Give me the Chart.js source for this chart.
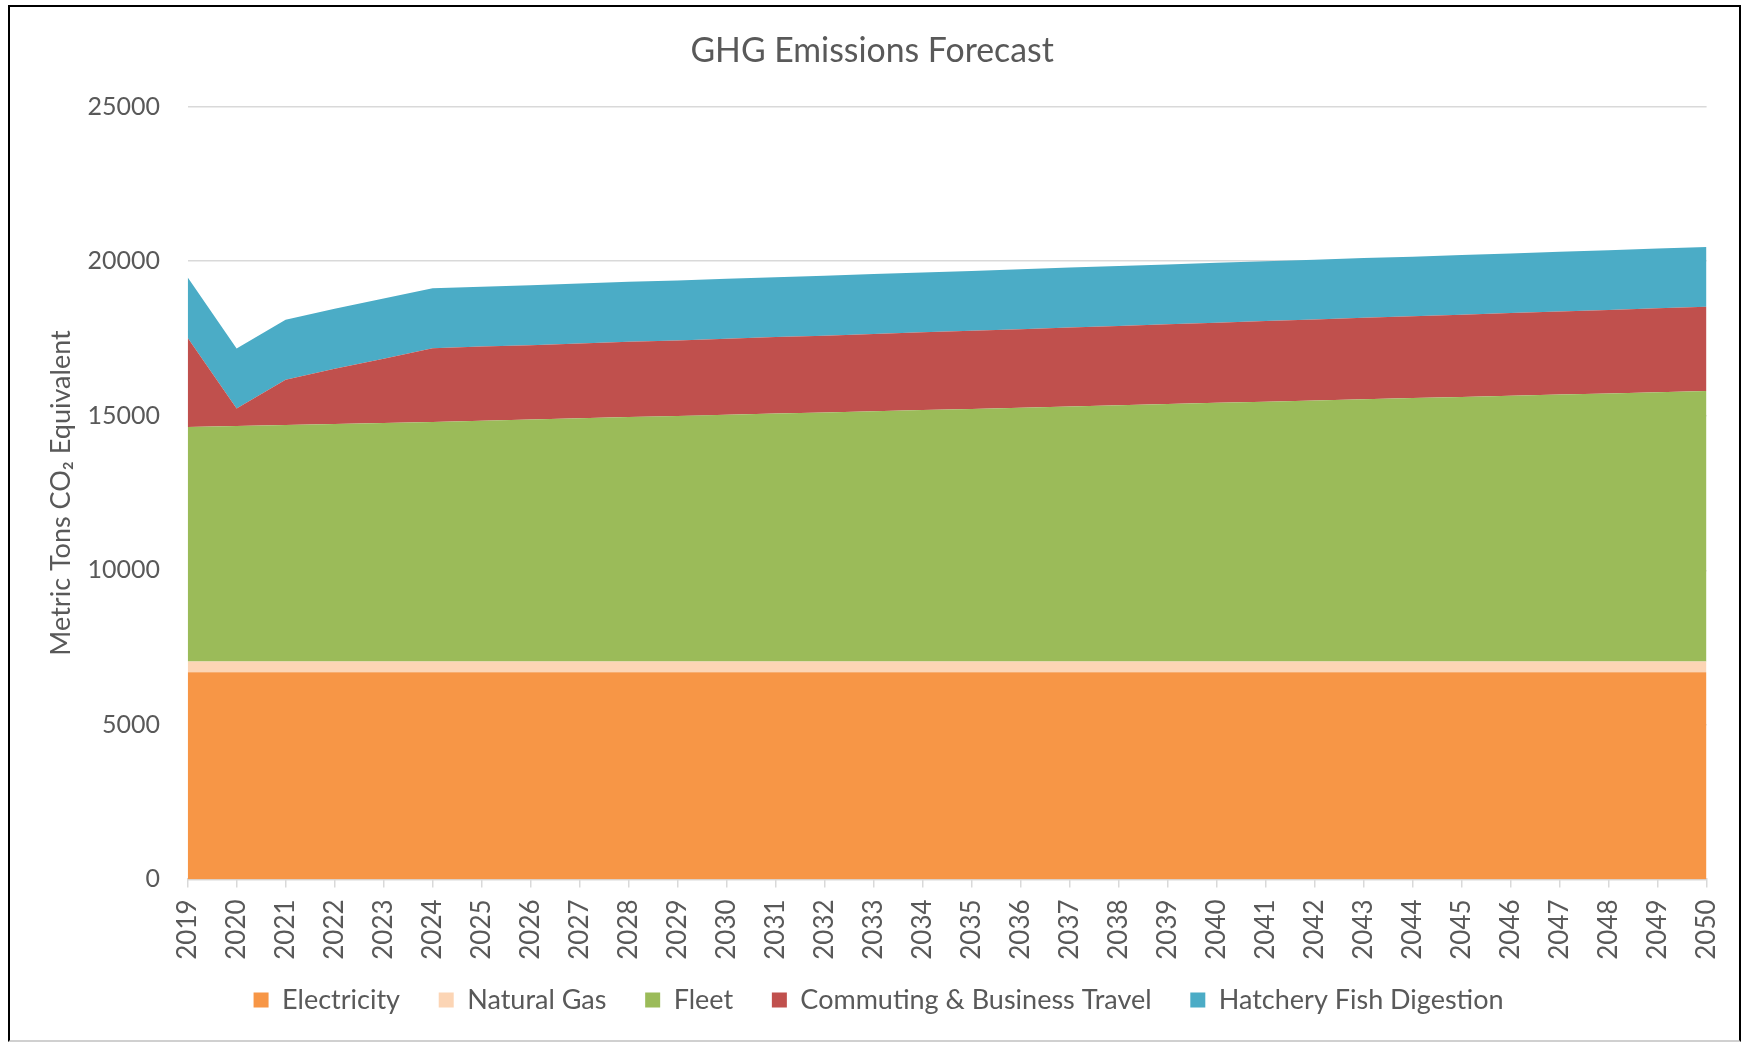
<!DOCTYPE html>
<html><head><meta charset="utf-8">
<script src="https://cdn.jsdelivr.net/npm/chart.js@4"></script>
<style>
html,body{margin:0;padding:0;background:#fff;}
#wrap{position:relative;width:1741px;height:1042px;overflow:hidden;background:#fff;}
#frame{position:absolute;left:8px;top:5px;width:1733px;height:1037px;box-sizing:border-box;border:2px solid #000;border-bottom-color:#d0d0d0;pointer-events:none;}
canvas{position:absolute;left:0;top:0;}
</style></head><body>
<div id="wrap"><canvas id="c" width="1741" height="1042"></canvas><div id="frame"></div></div>
<script>
const years = ['2019','2020','2021','2022','2023','2024','2025','2026','2027','2028','2029','2030','2031','2032','2033','2034','2035','2036','2037','2038','2039','2040','2041','2042','2043','2044','2045','2046','2047','2048','2049','2050'];
const electricity = [6700,6700,6700,6700,6700,6700,6700,6700,6700,6700,6700,6700,6700,6700,6700,6700,6700,6700,6700,6700,6700,6700,6700,6700,6700,6700,6700,6700,6700,6700,6700,6700];
const naturalGas = [350,350,350,350,350,350,350,350,350,350,350,350,350,350,350,350,350,350,350,350,350,350,350,350,350,350,350,350,350,350,350,350];
const fleet = [7585,7615,7650,7685,7715,7750,7790,7825,7865,7905,7940,7980,8020,8055,8095,8135,8170,8210,8250,8290,8325,8365,8405,8440,8480,8520,8555,8595,8635,8670,8710,8750];
const commuting = [2890,570,1460,1780,2080,2380,2395,2405,2420,2435,2445,2460,2475,2485,2500,2515,2525,2540,2555,2565,2580,2595,2605,2620,2635,2645,2660,2675,2685,2700,2715,2725];
const hatchery = [1950,1940,1940,1945,1950,1940,1940,1940,1940,1940,1940,1940,1935,1935,1935,1935,1935,1935,1935,1935,1935,1935,1935,1935,1935,1930,1930,1930,1930,1930,1930,1930];
const yTicks = [0,5000,10000,15000,20000,25000];

const FONT = "Lato, 'Noto Sans', 'DejaVu Sans', sans-serif";
Chart.defaults.font.family = FONT;
Chart.defaults.color = '#595959';

function ds(label, data, color, fill){
  return {label, data, backgroundColor: color, borderColor: color, borderWidth: 0, fill, pointRadius: 0, pointHoverRadius: 0, tension: 0};
}

const legendShift = {
  id: 'legendShift',
  afterLayout(chart){
    if (chart.legend) { chart.legend.left += 6.5; chart.legend.right += 6.5; }
  }
};

new Chart(document.getElementById('c'), {
  type: 'line',
  data: {
    labels: years,
    datasets: [
      ds('Electricity', electricity, '#F79646', 'origin'),
      ds('Natural Gas', naturalGas, '#FCD5B5', '-1'),
      ds('Fleet', fleet, '#9BBB59', '-1'),
      ds('Commuting & Business Travel', commuting, '#C0504D', '-1'),
      ds('Hatchery Fish Digestion', hatchery, '#4BACC6', '-1')
    ]
  },
  plugins: [legendShift],
  options: {
    responsive: false,
    animation: false,
    devicePixelRatio: 1,
    events: [],
    layout: {padding: {left: 37.6, right: 34.4, top: 0, bottom: 18.5}},
    plugins: {
      title: {display: true, text: 'GHG Emissions Forecast', color: '#595959', font: {size: 33.8, weight: 'normal'}, padding: {top: 30.7, bottom: 35.3}},
      legend: {position: 'bottom', labels: {boxWidth: 15, boxHeight: 15, padding: 38.7, color: '#595959', font: {size: 27}}},
      tooltip: {enabled: false}
    },
    scales: {
      x: {
        grid: {drawOnChartArea: false, drawTicks: true, tickLength: 8, color: '#d9d9d9', lineWidth: 1.5},
        border: {display: true, color: '#d9d9d9', width: 2},
        ticks: {minRotation: 90, maxRotation: 90, autoSkip: false, padding: 12, color: '#595959', font: {size: 26}},
        afterFit(s){
          s.height = 68.4;
          s.paddingLeft = 0; s.paddingRight = 0;
          s._computeLabelArea = () => undefined;
        }
      },
      y: {
        stacked: true,
        min: yTicks[0], max: yTicks[yTicks.length-1],
        afterBuildTicks(s){ s.ticks = yTicks.map(v => ({value: v})); },
        ticks: {padding: 27.6, color: '#595959', font: {size: 25}, callback: v => String(v)},
        grid: {drawTicks: false, color: '#d9d9d9', lineWidth: 1.5},
        border: {display: false},
        title: {display: true, text: 'Metric Tons CO\u2082 Equivalent', color: '#595959', font: {size: 27}, padding: {top: 7.2, bottom: 0}},
        afterFit(s){ s.width = 150; }
      }
    }
  }
});
</script>
</body></html>
